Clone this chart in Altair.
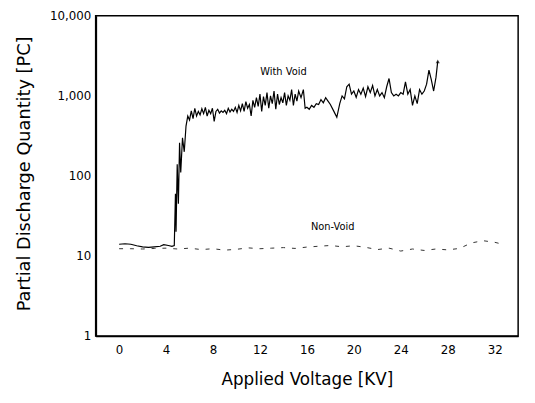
import altair as alt
import pandas as pd

# With Void series (kV, pC)
wv_kv = [0.0, 0.5, 1.0, 1.5, 2.0, 2.5, 3.0, 3.5, 3.8, 4.2, 4.5, 4.7,
         4.8, 4.85, 4.95, 5.05, 5.15, 5.25, 5.4, 5.55, 5.7, 5.85, 6.0,
         6.15, 6.3, 6.45, 6.6, 6.75, 6.9, 7.05, 7.2, 7.35, 7.5, 7.65, 7.8, 7.95,
         8.1, 8.25, 8.4, 8.55, 8.7, 8.85, 9.0, 9.15, 9.3, 9.45, 9.6, 9.75, 9.9,
         10.05, 10.2, 10.35, 10.5, 10.65, 10.8, 10.95, 11.1, 11.25, 11.4, 11.55, 11.7, 11.85,
         12.0, 12.15, 12.3, 12.45, 12.6, 12.75, 12.9, 13.05, 13.2, 13.35, 13.5, 13.65, 13.8, 13.95,
         14.1, 14.25, 14.4, 14.55, 14.7, 14.85, 15.0, 15.15, 15.3, 15.5, 15.7, 15.85,
         16.0, 16.2, 16.4, 16.6, 16.8, 17.0, 17.2, 17.4, 17.6, 17.8, 18.0, 18.3, 18.55, 18.8,
         19.0, 19.2, 19.4, 19.6, 19.8, 20.0, 20.2, 20.4, 20.6, 20.8, 21.0, 21.2, 21.4, 21.6, 21.8,
         22.0, 22.2, 22.4, 22.6, 22.8, 23.0, 23.2, 23.4, 23.6, 23.8, 24.0, 24.2, 24.4, 24.6, 24.8,
         25.0, 25.2, 25.4, 25.6, 25.8, 26.0, 26.2, 26.4, 26.6, 26.8, 27.0, 27.15]
wv_pc = [14.0, 14.2, 14.0, 13.4, 13.0, 12.8, 13.0, 13.2, 13.8, 13.5, 13.2, 13.5,
         60, 20, 140, 45, 260, 110, 300, 200, 420, 560, 500,
         650, 520, 700, 560, 640, 580, 690, 600, 720, 560, 660, 600, 700,
         480, 640, 680, 610, 650, 620, 660, 600, 700, 630, 680, 640, 720,
         620, 760, 650, 800, 640, 850, 700, 780, 560, 880, 720, 950, 740,
         1050, 640, 980, 760, 1100, 700, 1000, 800, 1150, 680, 1050, 780, 950, 820,
         1100, 760, 1000, 880, 1200, 760, 1050, 860, 1150, 950, 1200, 700,
         720, 680, 760, 720, 800, 780, 900, 820, 950, 860, 780, 640, 540, 800,
         1000, 920, 1300, 1400, 1050, 1150, 960, 1200, 1050, 1250, 980, 1300, 1100, 1350, 1000,
         1200, 1000, 1100, 950, 1300, 1650, 1100, 1000, 1050, 1000, 1100, 1050, 1500, 1050, 1200,
         760, 1000, 800, 1200, 1050, 1150, 1400, 2100, 1600, 1150, 1700, 2700]

# Non-Void series (kV, pC)
nv_kv = [0, 1, 2, 3, 4, 5, 6, 7, 8, 9, 10, 11, 12, 13, 14, 15, 16, 17, 18, 19,
         20, 21, 22, 23, 24, 25, 26, 27, 28, 29, 30, 31, 32, 32.5]
nv_pc = [12.3, 12.3, 12.2, 12.4, 12.5, 12.2, 12.5, 12.0, 12.3, 11.8, 12.1, 12.6,
         12.3, 12.5, 12.7, 12.4, 12.9, 13.2, 13.5, 13.0, 13.4, 12.8, 12.0, 12.5,
         11.5, 12.2, 11.7, 12.2, 11.9, 12.4, 14.5, 15.5, 14.8, 14.2]

x_ticks = [0, 4, 8, 12, 16, 20, 24, 28, 32]
y_ticks = [1, 10, 100, 1000, 10000]

label_text = ["With Void", "Non-Void"]
label_kv = [14.0, 18.2]
label_pc = [1990, 23.2]

wv = pd.DataFrame({"kv": wv_kv, "pc": wv_pc})
nv = pd.DataFrame({"kv": nv_kv, "pc": nv_pc})
lab = pd.DataFrame({"t": label_text, "kv": label_kv, "pc": label_pc})
end = wv.tail(1)

FONT = "DejaVu Sans"

xs = alt.X("kv:Q", scale=alt.Scale(domain=[-2, 34], nice=False, zero=False),
           axis=alt.Axis(values=x_ticks, title="Applied  Voltage  [KV]", grid=False,
                         ticks=False, labelPadding=9, labelFontSize=12, labelFont=FONT,
                         titleFont=FONT, titleFontSize=17, titleFontWeight="normal",
                         titleX=214.5, titleY=44, titleBaseline="middle",
                         domainColor="black", domainWidth=1.5, labelColor="black",
                         titleColor="black"))
ys = alt.Y("pc:Q", scale=alt.Scale(type="log", domain=[1, 10000], nice=False),
           axis=alt.Axis(values=y_ticks, format=",", title="Partial Discharge Quantity [PC]",
                         grid=False, ticks=False, labelPadding=5, labelFontSize=12,
                         labelFont=FONT, titleFont=FONT, titleFontSize=18,
                         titleFontWeight="normal", titleX=-72, titleY=160,
                         titleAngle=-90, titleBaseline="middle", titleAlign="center",
                         domainColor="black", domainWidth=2, labelColor="black",
                         titleColor="black"))

line_wv = alt.Chart(wv).mark_line(color="black", strokeWidth=1.2).encode(x=xs, y=ys)
line_nv = alt.Chart(nv).mark_line(color="#333333", strokeWidth=1, strokeDash=[4, 7]).encode(
    x="kv:Q", y="pc:Q")
endpt = alt.Chart(end).mark_point(shape="triangle-up", filled=True, color="black", size=18).encode(
    x="kv:Q", y="pc:Q")
texts = alt.Chart(lab).mark_text(font=FONT, fontSize=10, color="black").encode(
    x="kv:Q", y="pc:Q", text="t:N")

chart = alt.layer(line_wv, line_nv, endpt, texts).properties(
    width=429, height=325,
    autosize=alt.AutoSizeParams(type="none"),
    padding={"left": 89, "top": 5, "right": 9, "bottom": 57},
    background="white",
).configure_view(stroke="black", strokeWidth=1.5)

chart.save("out.html", embed_options={"renderer": "svg", "actions": False})
